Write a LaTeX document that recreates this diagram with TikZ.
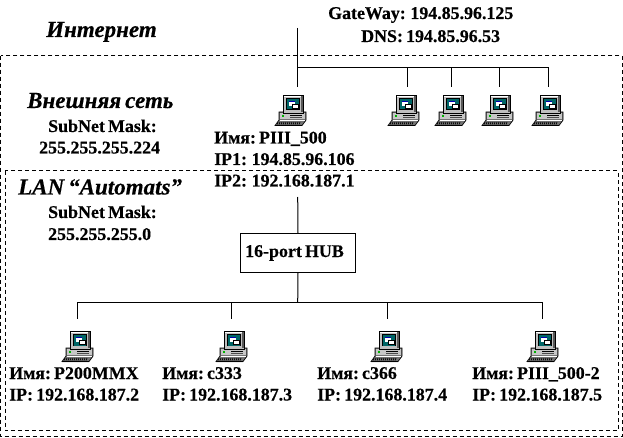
\documentclass[tikz,border=0pt]{standalone}
\usepackage{fontspec}
\setmainfont[WordSpace=0.7,BoldFeatures={FakeBold=0.4},BoldItalicFeatures={FakeBold=0.4}]{Liberation Serif}
\usetikzlibrary{arrows}
\tikzset{
  pcicon/.pic={
    \fill[black!55] (4,18) -- (31,18) -- (31,27) -- (27,32) -- (0,32) -- (4,26) -- cycle;
    \fill[black!22] (5,19) rectangle (30,25);
    \draw[line width=.6pt,black] (4,18) -- (4,26) -- (0,31.5) -- (27,31.5) -- (31,26) -- (31,18) -- cycle;
    \draw[line width=.6pt,white] (5,26.5) -- (30,26.5);
    \foreach \k in {3,5,...,25} {\draw[line width=.7pt,black] (\k,28) -- (\k-1,30.5);}
    \fill[green!70!black] (7,21) rectangle (9,23);
    \draw[line width=.8pt,black] (15,21) -- (27,21);
    \draw[line width=.8pt,black!70] (15,23) -- (27,23);
    \fill[black!25] (8,1) rectangle (28,19);
    \draw[line width=.6pt,black] (8,1) rectangle (28,19);
    \draw[line width=.8pt,white] (9,2) -- (26,2);
    \fill[black!65] (26,2) rectangle (28,18);
    \fill[black] (10.5,4) rectangle (25,16);
    \fill[teal!80!black] (11.5,5) rectangle (24,15.5);
    \fill[white] (14,7) rectangle (20,12);
    \fill[blue!70!black] (14,7) rectangle (20,8);
    \fill[white] (17,10) rectangle (23,14.5);
    \fill[blue!70!black] (17,10) rectangle (23,11);
    \draw[line width=.4pt,black] (17,10) rectangle (23,14.5);
  }
}
\begin{document}
\begin{tikzpicture}[x=1pt,y=-1pt,
  lbl/.style={inner sep=0pt,anchor=base west,font=\bfseries\fontsize{17.9}{17.9}\selectfont},
  ttl/.style={inner sep=0pt,anchor=base west,font=\bfseries\itshape\fontsize{23}{23}\selectfont},
  port/.style={inner sep=0pt,minimum width=1pt,minimum height=38pt},
  wire/.style={line width=1pt,black},
  zone/.style={line width=.9pt,black,dash pattern=on 4pt off 3pt}]
\useasboundingbox (0,0) rectangle (623,438);
\def\g{194.85.96}
\def\h{192.168.187}
\def\m{255.255.255}
\def\im{Имя:\hspace{-1.5pt} }
%zones
\draw[zone] (.7,55.7) rectangle (622,436.7);
\draw[zone] (5,170.7) rectangle (618,430.7);
%titles
\node [ttl, name=inet] at (46,37) {Интернет};
\node [ttl, name=ext]  at (27,108) {Внешняя сеть};
\node [ttl, name=lan]  at (18,194.5) {LAN “Automats”};
\node [lbl, name=gw]   at (328,19) {GateWay: \g.125};
\node [lbl, name=dns]  at (361,42) {DNS: \g.53};
\node [lbl, name=m1]   at (48,132) {SubNet Mask:};
\node [lbl, name=m1a]  at (39,153.5) {\m.224};
\node [lbl, name=m2]   at (48,218) {SubNet Mask:};
\node [lbl, name=m2a]  at (48,240) {\m.0};
%upper computers
\foreach \n/\x/\o in {a1/297.7/22.7,a2/407.3/19.3,a3/451.3/16.3,a4/499.3/17.3,a5/548.7/16.7}{
  \node [port, name=\n] at (\x,106) {};
  \pic at (\x-\o,94) {pcicon};
}
%lower computers
\foreach \n/\x/\o in {b1/77.5/15.5,b2/231.3/15.3,b3/387.3/16.3,b4/542.3/15.3}{
  \node [port, name=\n] at (\x,338) {};
  \pic at (\x-\o,330) {pcicon};
}
\node [lbl, name=t1] at (214,143.5) {\im PIII\_500};
\node [lbl, name=t2] at (214,165) {IP1: \g.106};
\node [lbl, name=t3] at (214,186.5) {IP2: \h.1};
\node [lbl, name=n1] at (9,379) {\im P200MMX};
\node [lbl, name=i1] at (9,400.5) {IP: \h.2};
\node [lbl, name=n2] at (162,379) {\im c333};
\node [lbl, name=i2] at (162,400.5) {IP: \h.3};
\node [lbl, name=n3] at (317,379) {\im c366};
\node [lbl, name=i3] at (317,400.5) {IP: \h.4};
\node [lbl, name=n4] at (472,379) {\im PIII\_500-2};
\node [lbl, name=i4] at (472,400.5) {IP: \h.5};
%hub and wires
\node [draw, line width=1pt, inner sep=0pt, minimum width=115.5pt, minimum height=38pt, name=hub, font=\bfseries\fontsize{17.9}{17.9}\selectfont] at (298,253) {\raisebox{3pt}{16-port HUB\kern 7pt}};
\coordinate (up) at (297.7,28);
\coordinate (down) at (297.7,197);
\coordinate (busa) at (297.7,68);
\coordinate (busb) at (297.7,302.7);
\draw [wire] (up) to (a1.north);
\draw [wire] (busa) to (busa -| a5) to (a5.north);
\draw [wire] (a2.north) to (a2.north |- busa);
\draw [wire] (a3.north) to (a3.north |- busa);
\draw [wire] (a4.north) to (a4.north |- busa);
\draw [wire] (down) to (hub.north);
\draw [wire] (hub.south) to (busb);
\draw [wire] (b1.north) to (b1.north |- busb) to (b4.north |- busb) to (b4.north);
\draw [wire] (b2.north) to (b2.north |- busb);
\draw [wire] (b3.north) to (b3.north |- busb);
\end{tikzpicture}
\end{document}
